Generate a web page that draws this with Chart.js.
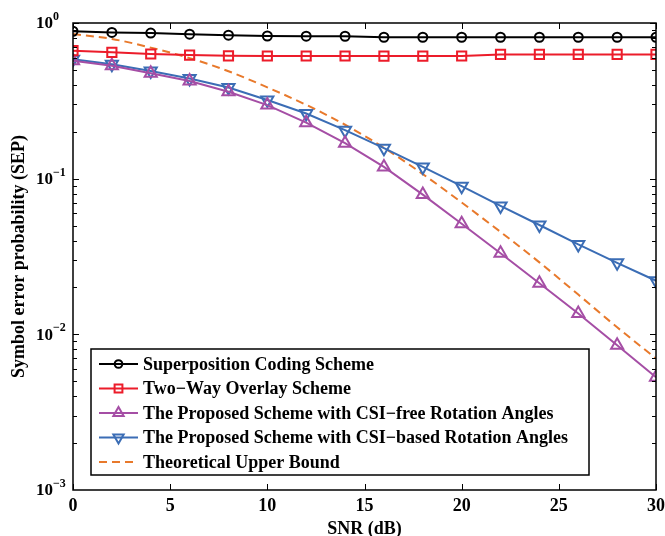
<!DOCTYPE html>
<html>
<head>
<meta charset="utf-8">
<script src="https://cdn.jsdelivr.net/npm/chart.js@4.4.1/dist/chart.umd.min.js"></script>
<style>
  html, body { margin: 0; padding: 0; background: #fff; }
  canvas { display: block; }
</style>
</head>
<body>
<canvas id="chartSep" width="665" height="536"></canvas>
<script>
// SNR (dB) on the x axis
const snr = [0, 2, 4, 6, 8, 10, 12, 14, 16, 18, 20, 22, 24, 26, 28, 30];

// SEP curves
const superposicion = [0.885, 0.87, 0.862, 0.848, 0.835, 0.825, 0.823, 0.822, 0.81, 0.81, 0.81, 0.81, 0.81, 0.81, 0.81, 0.81];
const dosVias = [0.664, 0.648, 0.632, 0.622, 0.615, 0.614, 0.614, 0.614, 0.613, 0.613, 0.614, 0.628, 0.628, 0.628, 0.628, 0.628];
const csiLibre = [0.573, 0.532, 0.475, 0.424, 0.362, 0.297, 0.229, 0.169, 0.119, 0.079, 0.0513, 0.0332, 0.0213, 0.0136, 0.0085, 0.0053];
const csiBasado = [0.585, 0.543, 0.492, 0.44, 0.385, 0.32, 0.262, 0.205, 0.157, 0.119, 0.0895, 0.0668, 0.0504, 0.0378, 0.0288, 0.0221];
const cotaSuperior = [0.85, 0.79, 0.695, 0.595, 0.49, 0.386, 0.298, 0.222, 0.158, 0.107, 0.0703, 0.0455, 0.029, 0.018, 0.0111, 0.007];

const xTicks = [0, 5, 10, 15, 20, 25, 30];
const yDecadas = [0, -1, -2, -3];

const FUENTE = "'Liberation Serif', 'Times New Roman', serif";

function puntos(valores) {
    return snr.map((x, i) => ({ x: x, y: valores[i] }));
}

// ejes estilo matlab: caja, ticks hacia dentro, etiquetas 10^n
const ejesMatlab = {
    id: 'ejesMatlab',
    afterDraw(chart) {
        const { ctx, chartArea: a, scales } = chart;
        const sx = scales.x, sy = scales.y;
        ctx.save();
        ctx.strokeStyle = '#000';
        ctx.lineWidth = 1.5;
        ctx.strokeRect(a.left, a.top, a.right - a.left, a.bottom - a.top);

        ctx.lineWidth = 1;
        ctx.beginPath();
        xTicks.forEach(v => {
            const px = Math.round(sx.getPixelForValue(v)) + 0.5;
            ctx.moveTo(px, a.bottom); ctx.lineTo(px, a.bottom - 6);
            ctx.moveTo(px, a.top); ctx.lineTo(px, a.top + 6);
        });
        yDecadas.forEach(e => {
            for (let m = 1; m <= 9; m++) {
                const v = m * Math.pow(10, e);
                if (v > 1 || (e === -3 && m === 1)) continue;
                const py = Math.round(sy.getPixelForValue(v)) + 0.5;
                const len = m === 1 ? 6 : 4;
                ctx.moveTo(a.left, py); ctx.lineTo(a.left + len, py);
                ctx.moveTo(a.right, py); ctx.lineTo(a.right - len, py);
            }
        });
        ctx.stroke();

        // etiquetas del eje y
        ctx.fillStyle = '#000';
        ctx.textBaseline = 'middle';
        yDecadas.forEach(e => {
            const py = sy.getPixelForValue(Math.pow(10, e));
            ctx.font = 'bold 17px ' + FUENTE;
            ctx.textAlign = 'right';
            ctx.fillText('10', 53, py + 1);
            ctx.font = 'bold 12px ' + FUENTE;
            ctx.textAlign = 'left';
            ctx.fillText(e === 0 ? '0' : '\u2212' + (-e), 53, py - 6);
        });
        ctx.restore();
    }
};

// leyenda con caja, abajo a la izquierda
const leyendaCaja = {
    id: 'leyendaCaja',
    afterDraw(chart) {
        const ctx = chart.ctx;
        const caja = { x: 91, y: 349, w: 498, h: 126 };
        ctx.save();
        ctx.fillStyle = '#fff';
        ctx.fillRect(caja.x, caja.y, caja.w, caja.h);
        ctx.strokeStyle = '#000';
        ctx.lineWidth = 1.5;
        ctx.strokeRect(caja.x, caja.y, caja.w, caja.h);

        chart.data.datasets.forEach((ds, i) => {
            const y = 364 + i * 24.5;
            ctx.strokeStyle = ds.borderColor;
            ctx.lineWidth = ds.borderWidth;
            ctx.setLineDash(ds.borderDash || []);
            ctx.beginPath();
            ctx.moveTo(99, y);
            ctx.lineTo(138, y);
            ctx.stroke();
            ctx.setLineDash([]);
            if (ds.pointRadius > 0) {
                ctx.lineWidth = ds.pointBorderWidth;
                ctx.strokeStyle = ds.borderColor;
                ctx.fillStyle = 'rgba(0,0,0,0)';
                Chart.helpers.drawPoint(ctx, {
                    pointStyle: ds.pointStyle,
                    rotation: ds.pointRotation || 0,
                    radius: ds.pointRadius * 0.85,
                    borderWidth: ds.pointBorderWidth
                }, 118.5, y);
            }
            ctx.fillStyle = '#000';
            ctx.font = 'bold 18px ' + FUENTE;
            ctx.textAlign = 'left';
            ctx.textBaseline = 'middle';
            ctx.fillText(ds.label, 143, y + 1);
        });
        ctx.restore();
    }
};

function serie(label, valores, color, estilo, radio, extra) {
    return Object.assign({
        label: label,
        data: puntos(valores),
        borderColor: color,
        backgroundColor: 'rgba(0,0,0,0)',
        borderWidth: 2,
        pointStyle: estilo,
        pointRadius: radio,
        pointBorderWidth: 2,
        pointBackgroundColor: 'rgba(0,0,0,0)',
        pointBorderColor: color,
        tension: 0
    }, extra || {});
}

new Chart(document.getElementById('chartSep'), {
    type: 'line',
    data: {
        datasets: [
            serie('Superposition Coding Scheme', superposicion, '#000000', 'circle', 4.5),
            serie('Two\u2212Way Overlay Scheme', dosVias, '#ec1c2a', 'rect', 6.5),
            serie('The Proposed Scheme with CSI\u2212free Rotation Angles', csiLibre, '#a54ea5', 'triangle', 7),
            serie('The Proposed Scheme with CSI\u2212based Rotation Angles', csiBasado, '#3b6db5', 'triangle', 7, { pointRotation: 180 }),
            serie('Theoretical Upper Bound', cotaSuperior, '#e8792b', 'circle', 0, {
                borderDash: [8, 5],
                cubicInterpolationMode: 'monotone'
            })
        ]
    },
    options: {
        responsive: false,
        animation: false,
        devicePixelRatio: 1,
        layout: { padding: { left: 0, right: 9, top: 23, bottom: 0 } },
        plugins: {
            legend: { display: false },
            tooltip: { enabled: false }
        },
        scales: {
            x: {
                type: 'linear',
                min: 0,
                max: 30,
                grid: { display: false },
                border: { display: false },
                ticks: {
                    stepSize: 5,
                    padding: -2,
                    color: '#000',
                    maxRotation: 0,
                    font: { family: FUENTE, size: 18, weight: 'bold' }
                },
                title: {
                    display: true,
                    text: 'SNR (dB)',
                    color: '#000',
                    padding: { top: 0, bottom: -2 },
                    font: { family: FUENTE, size: 18, weight: 'bold', lineHeight: 1 }
                },
                afterFit: s => { s.height = 46; s.paddingLeft = 0; s.paddingRight = 0; }
            },
            y: {
                type: 'logarithmic',
                min: 0.001,
                max: 1,
                grid: { display: false },
                border: { display: false },
                ticks: { display: false },
                title: {
                    display: true,
                    text: 'Symbol error probability (SEP)',
                    color: '#000',
                    padding: { top: 10, bottom: 0 },
                    font: { family: FUENTE, size: 18, weight: 'bold', lineHeight: 1 }
                },
                afterFit: s => { s.width = 73; }
            }
        }
    },
    plugins: [ejesMatlab, leyendaCaja]
});
</script>
</body>
</html>
